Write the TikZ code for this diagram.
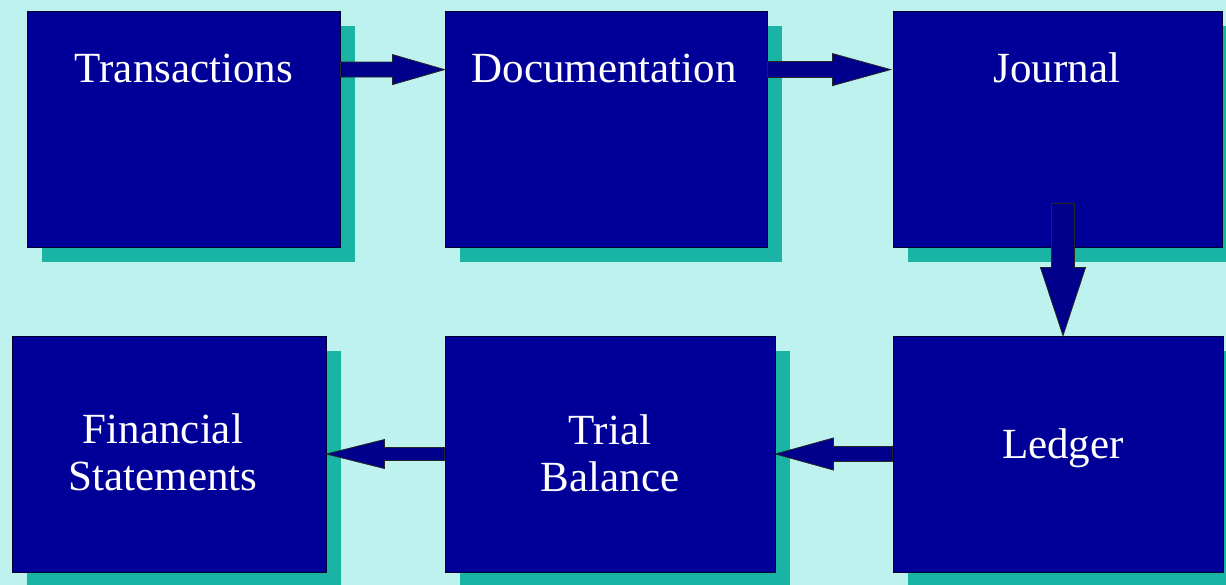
\documentclass[tikz,border=0pt]{standalone}
\usepackage{fontspec}
\setmainfont{Liberation Serif}
\usetikzlibrary{calc,shadows}

\definecolor{bgcyan}{HTML}{BEF2EF}
\definecolor{boxblue}{HTML}{000099}
\definecolor{shadowteal}{HTML}{1AB4A4}
\definecolor{arrowblue}{HTML}{00008C}
\definecolor{edgedark}{HTML}{000030}

\tikzset{
  stage/.style={draw=edgedark, line width=0.8pt, fill=boxblue,
    minimum height=236pt, inner sep=0pt,
    drop shadow={shadow xshift=15pt, shadow yshift=-15pt, fill=shadowteal, opacity=1}},
  stagelabel/.style={text=white, font=\fontsize{43}{47}\selectfont,
    inner sep=0pt, align=center},
  blockarrow/.style={fill=arrowblue, draw=black!85, line width=0.8pt, line join=miter},
}

% horizontal block arrow: start, tip, shaft half-width, head half-width, head length (signed)
\newcommand\harrow[5]{%
  \draw[blockarrow] ($(#1)+(0,#3)$) -- ($(#2)+(#5,#3)$) -- ($(#2)+(#5,#4)$) -- (#2)
    -- ($(#2)+(#5,-#4)$) -- ($(#2)+(#5,-#3)$) -- ($(#1)+(0,-#3)$) -- cycle;}
% vertical block arrow: same arguments, along y
\newcommand\varrow[5]{%
  \draw[blockarrow] ($(#1)+(#3,0)$) -- ($(#2)+(#3,#5)$) -- ($(#2)+(#4,#5)$) -- (#2)
    -- ($(#2)+(-#4,#5)$) -- ($(#2)+(-#3,#5)$) -- ($(#1)+(-#3,0)$) -- cycle;}

\begin{document}
\begin{tikzpicture}[x=1pt, y=-1pt]
  \useasboundingbox (0,0) rectangle (1226,585);
  \clip (0,0) rectangle (1226,585);
  \fill[bgcyan] (0,0) rectangle (1226,585);

  % the six stages of the accounting cycle
  \node[stage, minimum width=313pt] (trans) at (183.5,129) {};
  \node[stage, minimum width=322pt] (doc)   at (606,129)   {};
  \node[stage, minimum width=329pt] (jour)  at (1057.5,129) {};
  \node[stage, minimum width=314pt] (fin)   at (169,454)   {};
  \node[stage, minimum width=330pt] (trial) at (610,454)   {};
  \node[stage, minimum width=330pt] (ledg)  at (1058,454)  {};

  \node[stagelabel, anchor=base]  (transtxt) at (184,83)    {Transactions};
  \node[stagelabel, anchor=base]  (doctxt)   at (604,83)    {Documentation};
  \node[stagelabel, anchor=base]  (jourtxt)  at (1057,83)   {Journal};
  \node[stagelabel, anchor=base]  (ledgtxt)  at (1063,458)  {Ledger};
  \node[stagelabel, anchor=north] (trialtxt) at (610,414.5) {Trial\\Balance};
  \node[stagelabel, anchor=north] (fintxt)   at (163,413.5) {Financial\\Statements};

  % arrow end points on the stage boxes
  \coordinate (a1s) at ($(trans.north east)+(0,59)$);
  \coordinate (a1t) at ($(doc.north west)+(0,59)$);
  \coordinate (a2s) at ($(doc.north east)+(0,59)$);
  \coordinate (a2t) at ($(jour.north west)+(-2,59)$);
  \coordinate (a3s) at ($(jour.south)+(5.5,-44)$);
  \coordinate (a3t) at ($(ledg.north)+(5,0)$);

  \harrow{a1s}{a1t}{7.5}{15}{-52}
  \harrow{a2s}{a2t}{8}{16}{-58}
  \varrow{a3s}{a3t}{11.5}{22.5}{-68}
  \harrow{ledg.west}{trial.east}{7.5}{16}{58}
  \harrow{trial.west}{fin.east}{6.5}{14.5}{58}
\end{tikzpicture}
\end{document}
